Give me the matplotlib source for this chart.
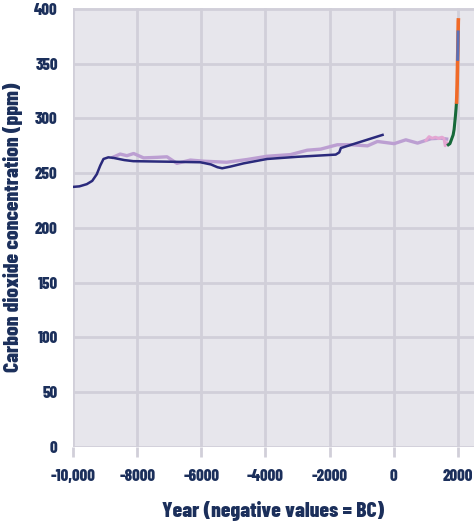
import matplotlib
matplotlib.use('Agg')
import matplotlib.pyplot as plt
from matplotlib.ticker import FuncFormatter

# ice core record (dark navy)
navy_year = [-10000, -9800, -9570, -9400, -9260, -9150, -9050, -8900, -8740, -8400, -8120,
             -7000, -6030, -5700, -5500, -5350, -5100, -4680, -3950, -3000, -1810, -1700,
             -1650, -1000, -350]
navy_co2 = [237.5, 238, 240, 243, 249, 257, 263, 264.5, 264, 262, 261,
            260.5, 260, 258, 255.5, 254.5, 256, 259, 263, 265, 267, 269,
            273, 279, 285]

# second ice core record (lavender)
lav_year = [-8800, -8530, -8320, -8110, -7800, -7380, -7070, -6760, -6340, -5930, -5210,
            -4580, -3950, -3220, -2700, -2280, -1760, -1340, -820, -510, 10, 375, 740,
            1160, 1470, 1700]
lav_co2 = [264, 267.5, 266, 268, 264, 264.5, 265, 259, 262, 261, 260,
           262.5, 265.5, 267, 271, 272, 276, 276, 275, 279, 277, 280.5, 277.5,
           281.5, 282, 281]

# Law Dome style record (pink)
pink_year = [1000, 1100, 1200, 1300, 1400, 1500, 1560, 1600, 1650, 1700]
pink_co2 = [280, 283.5, 282, 283, 281.5, 283, 282, 275, 278, 277]

# firn/ice record 1700-1950 (green)
green_year = [1700, 1750, 1800, 1850, 1880, 1900, 1920, 1940, 1950]
green_co2 = [276, 277, 281, 285, 290, 296, 302, 309, 313]

# direct measurements (orange)
orange_year = [1958, 1965, 1970, 1975, 1980, 1985, 1990, 1995, 2000, 2005, 2010, 2012]
orange_co2 = [315, 320, 326, 331, 339, 346, 354, 361, 369, 380, 389, 390]

# second station (blue)
blue_year = [1990, 1995, 2000, 2005]
blue_co2 = [354, 361, 369, 379]

x_ticks = [-10000, -8000, -6000, -4000, -2000, 0, 2000]
y_ticks = [0, 50, 100, 150, 200, 250, 300, 350, 400]

plt.rcParams['font.family'] = ['Barlow Condensed', 'Roboto Condensed', 'DejaVu Sans']
text_color = '#1b2f5b'
grid_color = '#d1cfd9'

fig = plt.figure(figsize=(4.74, 5.27), dpi=100)
ax = fig.add_axes([0.154, 0.152, 0.846, 0.833])
ax.set_facecolor('#e7e6ec')

ax.plot(lav_year, lav_co2, color='#bc9fd2', lw=2.4, solid_capstyle='butt')
ax.plot(pink_year, pink_co2, color='#e4a6d2', lw=2.0)
ax.plot(navy_year, navy_co2, color='#2b2a7c', lw=1.8)
ax.plot(green_year, green_co2, color='#17693a', lw=2.2)
ax.plot(orange_year, orange_co2, color='#f06a28', lw=2.6)
ax.plot(blue_year, blue_co2, color='#5b70b6', lw=2.2)

ax.set_xlim(-10000, 2500)
ax.set_ylim(0, 401)
ax.set_xticks(x_ticks)
ax.set_yticks(y_ticks)
ax.xaxis.set_major_formatter(FuncFormatter(lambda v, p: '-10,000' if v == -10000 else '%d' % v))
ax.grid(True, color=grid_color, lw=2)
ax.set_axisbelow(True)
for s in ax.spines.values():
    s.set_visible(False)

ax.tick_params(axis='x', length=7, width=2, color=grid_color, pad=9,
               labelsize=12, labelcolor=text_color)
ax.tick_params(axis='y', length=0, pad=11, labelsize=12, labelcolor=text_color)
for lab in ax.get_xticklabels() + ax.get_yticklabels():
    lab.set_fontweight('heavy')

ax.set_xlabel('Year (negative values = BC)', fontsize=15.5, fontweight='heavy',
              color=text_color, labelpad=12)
ax.set_ylabel('Carbon dioxide concentration (ppm)', fontsize=15.5, fontweight='heavy',
              color=text_color, labelpad=8)

fig.savefig('out.png', dpi=100)
